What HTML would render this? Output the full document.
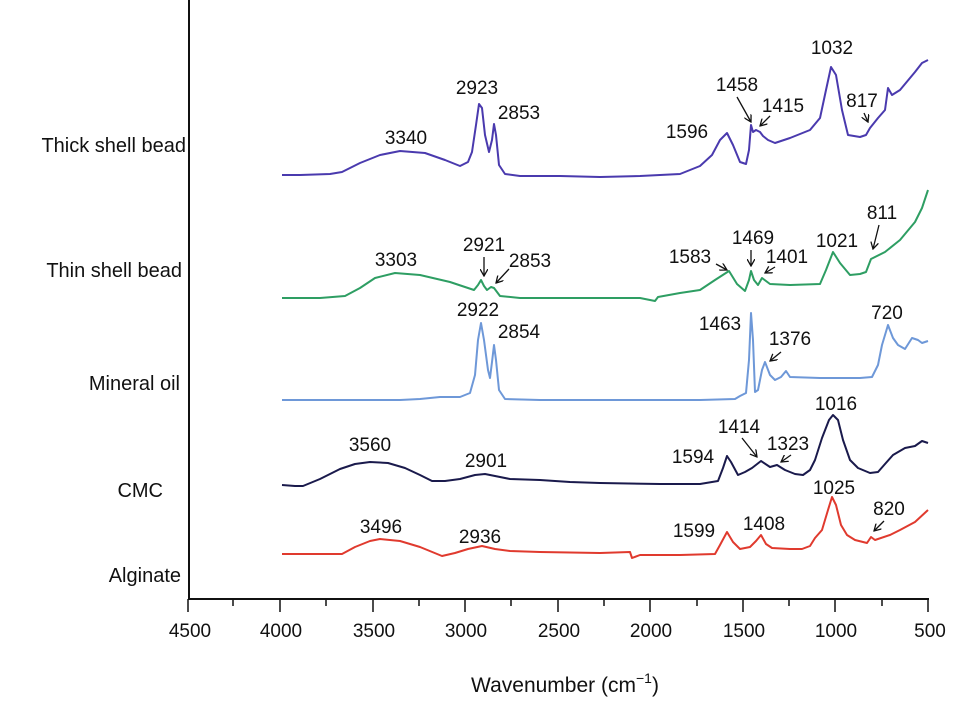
<!DOCTYPE html>
<html><head><meta charset="utf-8"><style>
html,body{margin:0;padding:0;background:#fff;}
svg{display:block;}
text{font-family:"Liberation Sans",sans-serif;fill:#111;}
</style></head><body>
<svg width="955" height="716" viewBox="0 0 955 716" xmlns="http://www.w3.org/2000/svg">
<defs><marker id="ar" markerWidth="8" markerHeight="8" refX="7" refY="4" orient="auto" markerUnits="userSpaceOnUse"><path d="M0,0 L7,4 L0,8" fill="none" stroke="#111" stroke-width="1.3"/></marker></defs>
<g stroke="#111" stroke-width="2" fill="none">
<line x1="189" y1="0" x2="189" y2="600"/>
<line x1="188" y1="599" x2="929" y2="599"/>
</g>
<g stroke="#111" stroke-width="1.5">
<line x1="188" y1="599" x2="188" y2="612"/><line x1="233" y1="599" x2="233" y2="606"/>
<line x1="280" y1="599" x2="280" y2="612"/><line x1="326" y1="599" x2="326" y2="606"/>
<line x1="373" y1="599" x2="373" y2="612"/><line x1="419" y1="599" x2="419" y2="606"/>
<line x1="465" y1="599" x2="465" y2="612"/><line x1="511" y1="599" x2="511" y2="606"/>
<line x1="558" y1="599" x2="558" y2="612"/><line x1="604" y1="599" x2="604" y2="606"/>
<line x1="650" y1="599" x2="650" y2="612"/><line x1="697" y1="599" x2="697" y2="606"/>
<line x1="743" y1="599" x2="743" y2="612"/><line x1="789" y1="599" x2="789" y2="606"/>
<line x1="835" y1="599" x2="835" y2="612"/><line x1="882" y1="599" x2="882" y2="606"/>
<line x1="928" y1="599" x2="928" y2="612"/>
</g>
<g font-size="19" text-anchor="middle">
<text x="190" y="637">4500</text><text x="281" y="637">4000</text><text x="374" y="637">3500</text>
<text x="466" y="637">3000</text><text x="559" y="637">2500</text><text x="651" y="637">2000</text>
<text x="744" y="637">1500</text><text x="836" y="637">1000</text><text x="930" y="637">500</text>
</g>
<text x="565" y="692" font-size="21" text-anchor="middle">Wavenumber (cm<tspan dy="-9" font-size="14">−1</tspan><tspan dy="9">)</tspan></text>
<g font-size="20" text-anchor="end">
<text x="186" y="152">Thick shell bead</text>
<text x="182" y="277">Thin shell bead</text>
<text x="180" y="390">Mineral oil</text>
<text x="163" y="497">CMC</text>
<text x="181" y="582">Alginate</text>
</g>
<g fill="none" stroke-width="2" stroke-linejoin="round">
<polyline stroke="#4a3aae" points="282,175 300,175 330,174 342,172 360,163 380,155 400,151 425,153 445,160 460,166 468,162 472,152 476,125 479,104 482,108 485,135 489,152 492,140 494,124 496,135 499,165 505,174 520,176 560,176 600,177 640,176 680,174 700,166 712,155 720,140 727,133 733,145 740,162 746,164 749,150 751,125 753,132 756,130 760,132 763,136 768,140 775,143 790,138 810,130 820,118 826,90 831,67 836,75 842,110 848,135 860,137 866,135 870,128 878,118 885,110 888,88 892,95 900,90 915,72 922,63 928,60"/>
<polyline stroke="#2e9e63" points="282,298 320,298 345,296 360,288 375,278 395,273 420,275 450,282 474,290 478,285 481,280 484,286 487,290 491,287 494,288 500,296 520,298 560,298 600,298 640,298 655,301 658,297 680,293 700,290 715,280 729,271 737,284 745,291 749,280 751,271 754,280 758,285 762,278 770,284 790,285 820,284 826,270 833,252 840,263 850,275 860,274 866,272 871,259 885,252 900,240 915,222 922,208 928,190"/>
<polyline stroke="#6e98d8" points="282,400 320,400 400,400 420,399 440,397 460,397 470,393 475,375 478,340 481,323 484,340 488,370 490,378 492,362 494,345 496,360 499,390 505,399 540,400 600,400 660,400 700,400 735,399 740,396 746,393 749,360 751,313 753,340 755,392 758,390 762,370 765,362 770,375 775,380 781,377 786,371 790,377 820,378 860,378 872,377 878,365 882,345 888,325 893,338 898,345 905,349 912,338 918,340 922,343 928,341"/>
<polyline stroke="#1a1a4c" points="282,485 295,486 303,486 320,479 340,469 355,464 370,462 388,463 405,468 420,475 432,481 445,481 460,479 475,475 485,474 495,476 510,479 540,480 570,482 600,483 660,484 700,484 718,481 723,468 727,456 731,462 738,475 745,472 752,468 761,461 770,467 777,465 785,470 795,474 803,475 810,470 815,460 822,438 829,420 833,415 838,420 843,440 850,460 858,468 870,473 878,472 885,464 893,455 905,448 915,446 922,441 928,443"/>
<polyline stroke="#e03a2e" points="282,554 310,554 342,554 355,547 370,541 380,539 400,541 420,547 442,556 455,553 468,549 482,546 495,549 510,551 540,552 600,553 630,552 632,558 640,555 680,555 715,554 720,545 727,532 733,542 740,549 750,547 756,541 761,535 766,544 772,548 790,549 802,549 810,546 815,538 822,530 828,510 832,497 836,505 841,525 847,535 855,540 867,543 871,537 875,540 890,535 900,530 915,522 928,510"/>
</g>
<g font-size="19" text-anchor="middle" dominant-baseline="middle">
<text x="406" y="139">3340</text><text x="477" y="89">2923</text><text x="519" y="114">2853</text>
<text x="687" y="133">1596</text><text x="737" y="86">1458</text><text x="783" y="107">1415</text>
<text x="832" y="49">1032</text><text x="862" y="102">817</text>
<text x="396" y="261">3303</text><text x="484" y="246">2921</text><text x="530" y="262">2853</text>
<text x="690" y="258">1583</text><text x="753" y="239">1469</text><text x="787" y="258">1401</text>
<text x="837" y="242">1021</text><text x="882" y="214">811</text>
<text x="478" y="311">2922</text><text x="519" y="333">2854</text><text x="720" y="325">1463</text>
<text x="790" y="340">1376</text><text x="887" y="314">720</text>
<text x="370" y="446">3560</text><text x="486" y="462">2901</text><text x="693" y="458">1594</text>
<text x="739" y="428">1414</text><text x="788" y="445">1323</text><text x="836" y="405">1016</text>
<text x="381" y="528">3496</text><text x="480" y="538">2936</text><text x="694" y="532">1599</text>
<text x="764" y="525">1408</text><text x="834" y="489">1025</text><text x="889" y="510">820</text>
</g>
<g stroke="#111" stroke-width="1.3" marker-end="url(#ar)">
<line x1="737" y1="97" x2="751" y2="122"/><line x1="770" y1="116" x2="760" y2="126"/>
<line x1="864" y1="113" x2="868" y2="122"/>
<line x1="484" y1="257" x2="484" y2="276"/><line x1="509" y1="269" x2="496" y2="283"/>
<line x1="716" y1="264" x2="727" y2="270"/><line x1="751" y1="250" x2="751" y2="266"/>
<line x1="775" y1="267" x2="765" y2="273"/><line x1="879" y1="225" x2="873" y2="249"/>
<line x1="781" y1="352" x2="770" y2="361"/>
<line x1="742" y1="438" x2="757" y2="457"/><line x1="791" y1="455" x2="781" y2="462"/>
<line x1="884" y1="521" x2="874" y2="531"/>
</g>
</svg>
</body></html>
